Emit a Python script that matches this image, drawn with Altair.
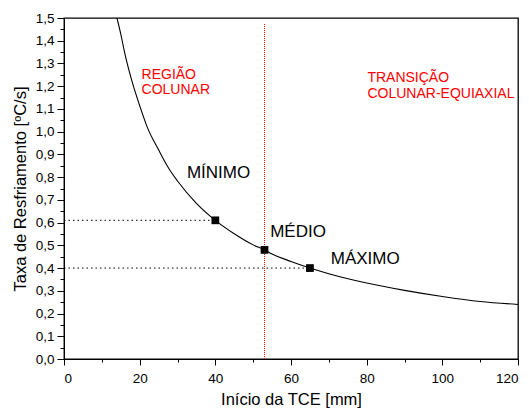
import altair as alt
import pandas as pd

# curve readings
curve_x = [14, 15, 16, 18, 20, 22, 25, 28, 30, 35, 40, 45, 50, 53, 55, 60, 65, 70, 80, 90, 100, 110, 120]
curve_y = [1.50, 1.43, 1.35, 1.22, 1.115, 1.02, 0.92, 0.83, 0.783, 0.685, 0.61, 0.551, 0.502, 0.48, 0.462, 0.429, 0.40, 0.375, 0.334, 0.302, 0.275, 0.253, 0.24]

pt_x = [40, 53, 65]
pt_y = [0.61, 0.48, 0.40]
pt_label = ["MÍNIMO", "MÉDIO", "MÁXIMO"]
lab_x = [32.5, 54.5, 70.5]
lab_y = [0.82, 0.56, 0.44]

vline_x = 53
vline_top = 1.475

red_text = ["REGIÃO", "COLUNAR", "TRANSIÇÃO", "COLUNAR-EQUIAXIAL"]
red_x = [20.5, 20.5, 80.2, 80.2]
red_y = [1.25, 1.183, 1.237, 1.167]

FONT = "Liberation Sans"

curve_df = pd.DataFrame({"x": curve_x, "y": curve_y})
pts_df = pd.DataFrame({"x": pt_x, "y": pt_y})
lab_df = pd.DataFrame({"x": lab_x, "y": lab_y, "t": pt_label})
hl_df = pd.DataFrame({"x": [0, 0], "x2": [pt_x[0], pt_x[2]], "y": [pt_y[0], pt_y[2]]})
vl_df = pd.DataFrame({"x": [vline_x], "y": [0], "y2": [vline_top]})
red_df = pd.DataFrame({"x": red_x, "y": red_y, "t": red_text})

xs = alt.Scale(domain=[0, 120], nice=False)
ys = alt.Scale(domain=[0, 1.5], nice=False)

label_expr = "replace(format(datum.value, '.1f'), '.', ',')"

xax = alt.Axis(orient="bottom", values=list(range(0, 121, 20)), tickSize=6, tickColor="black", domainColor="black",
               labelFont=FONT, labelFontSize=13.5, labelColor="black", labelPadding=6,
               title="Início da TCE [mm]", titleFont=FONT, titleFontSize=16.5, titleFontWeight="normal",
               titleColor="black", titlePadding=7, grid=False)
yax = alt.Axis(orient="left", values=[round(i * 0.1, 1) for i in range(16)], tickSize=7, tickColor="black",
               domainColor="black", labelFont=FONT, labelFontSize=13.5, labelColor="black", labelPadding=3,
               labelExpr=label_expr, title="Taxa de Resfriamento [ºC/s]", titleFont=FONT, titleFontSize=16.5,
               titleFontWeight="normal", titleColor="black", titlePadding=7, grid=False)

main = alt.Chart(curve_df).mark_line(color="black", strokeWidth=1.1, interpolate="monotone", clip=True).encode(
    x=alt.X("x:Q", scale=xs, axis=xax),
    y=alt.Y("y:Q", scale=ys, axis=yax),
)

minor = alt.Chart(pd.DataFrame({"x": [0], "y": [0]})).mark_point(opacity=0).encode(
    x=alt.X("x:Q", scale=xs, axis=alt.Axis(orient="bottom", values=list(range(10, 120, 20)), tickSize=3,
                                           tickColor="black", labels=False, domain=False, title=None, grid=False)),
    y=alt.Y("y:Q", scale=ys, axis=alt.Axis(orient="left", values=[round(0.05 + i * 0.1, 2) for i in range(15)],
                                           tickSize=4, tickColor="black", labels=False, domain=False,
                                           title=None, grid=False)),
)

hl = alt.Chart(hl_df).mark_rule(color="black", strokeWidth=1, strokeDash=[1.5, 3]).encode(
    x=alt.X("x:Q", scale=xs, axis=None), x2="x2:Q", y=alt.Y("y:Q", scale=ys, axis=None))

vl = alt.Chart(vl_df).mark_rule(color="red", strokeWidth=1, strokeDash=[1, 1]).encode(
    x=alt.X("x:Q", scale=xs, axis=None), y=alt.Y("y:Q", scale=ys, axis=None), y2="y2:Q")

pts = alt.Chart(pts_df).mark_square(color="black", size=60, opacity=1).encode(
    x=alt.X("x:Q", scale=xs, axis=None), y=alt.Y("y:Q", scale=ys, axis=None))

labs = alt.Chart(lab_df).mark_text(font=FONT, fontSize=17, align="left", baseline="middle", color="black").encode(
    x=alt.X("x:Q", scale=xs, axis=None), y=alt.Y("y:Q", scale=ys, axis=None), text="t:N")

reds = alt.Chart(red_df).mark_text(font=FONT, fontSize=14, align="left", baseline="middle", color="red").encode(
    x=alt.X("x:Q", scale=xs, axis=None), y=alt.Y("y:Q", scale=ys, axis=None), text="t:N")

chart = alt.layer(main, minor, hl, vl, pts, labs, reds).resolve_axis(
    x="independent", y="independent"
).properties(
    width=454, height=341,
    padding={"left": 64, "top": 18, "right": 11, "bottom": 55},
    autosize=alt.AutoSizeParams(type="none"),
    background="white",
).configure_view(stroke="black", strokeWidth=1.3)

chart.save("out.html", embed_options={"renderer": "svg", "actions": False})
